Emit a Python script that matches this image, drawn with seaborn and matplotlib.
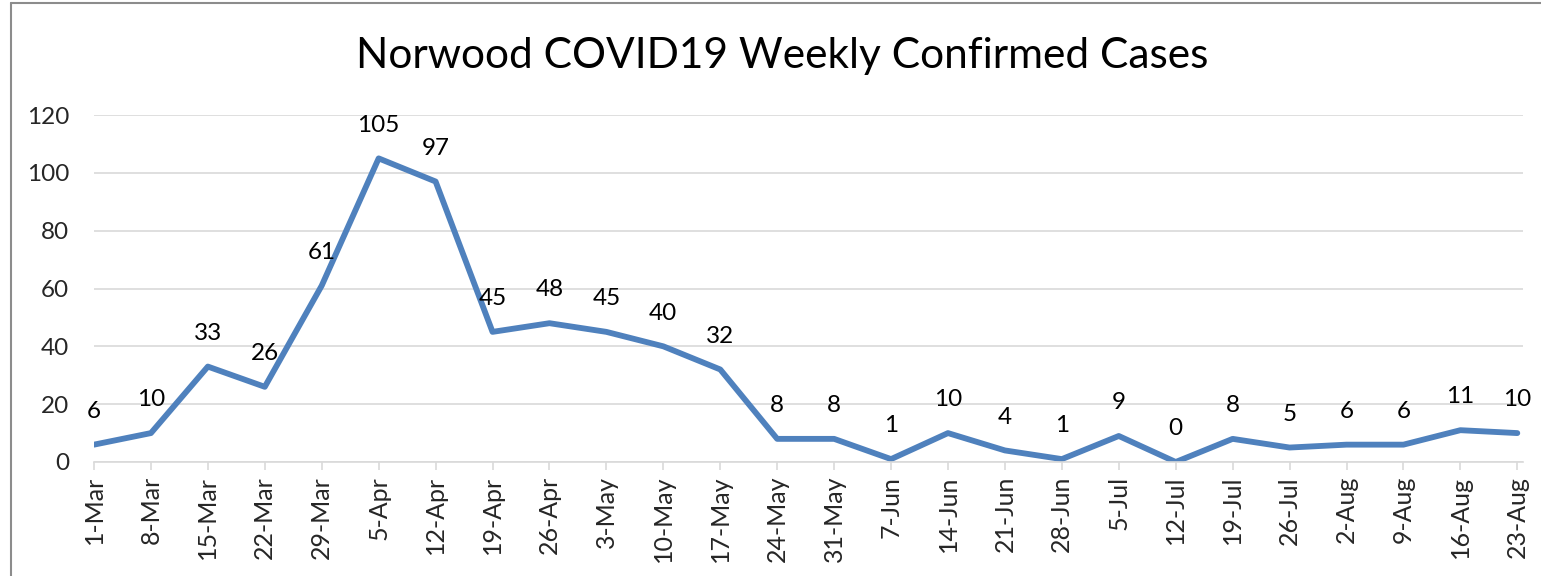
import matplotlib
matplotlib.use("Agg")
import matplotlib.pyplot as plt
import seaborn as sns
import pandas as pd

weeks = ["1-Mar", "8-Mar", "15-Mar", "22-Mar", "29-Mar", "5-Apr", "12-Apr", "19-Apr",
         "26-Apr", "3-May", "10-May", "17-May", "24-May", "31-May", "7-Jun", "14-Jun",
         "21-Jun", "28-Jun", "5-Jul", "12-Jul", "19-Jul", "26-Jul", "2-Aug", "9-Aug",
         "16-Aug", "23-Aug"]
cases = [6, 10, 33, 26, 61, 105, 97, 45, 48, 45, 40, 32, 8, 8, 1, 10, 4, 1, 9, 0, 8, 5, 6, 6, 11, 10]
y_ticks = [0, 20, 40, 60, 80, 100, 120]
title = "Norwood COVID19 Weekly Confirmed Cases"

sns.set_theme(style="white")
plt.rcParams['font.family'] = ['Lato', 'DejaVu Sans']

df = pd.DataFrame({"idx": range(len(weeks)), "week": weeks, "cases": cases})

W, H = 1541, 576
fig = plt.figure(figsize=(W / 100, H / 100), dpi=100)
ax = fig.add_axes([94 / W, (576 - 462) / H, (1523 - 94) / W, (462 - 115) / H])

sns.lineplot(data=df, x="idx", y="cases", ax=ax, color="#4F81BD", linewidth=4.2,
             solid_joinstyle="round", solid_capstyle="round")

for i, v in zip(df["idx"], df["cases"]):
    ax.annotate(str(v), (i, v), xytext=(0, 24), textcoords="offset points",
                ha="center", va="center", fontsize=17.5, color="black")

ax.set_xlim(0, len(weeks) - 1 + 0.1)
ax.set_ylim(0, 120)
ax.set_yticks(y_ticks)
ax.set_yticklabels([str(t) for t in y_ticks], fontsize=17.5)
ax.set_xticks(list(range(len(weeks))))
ax.set_xticklabels(weeks, rotation=90, fontsize=18)
ax.grid(axis="y", color="#d9d9d9", linewidth=1.2)
ax.set_axisbelow(True)
for s in ["left", "top", "right"]:
    ax.spines[s].set_visible(False)
ax.spines["bottom"].set_color("#d9d9d9")
ax.spines["bottom"].set_linewidth(1.2)
ax.tick_params(axis="x", bottom=True, length=6, color="#d9d9d9", width=1.2, pad=4)
ax.tick_params(axis="y", left=False, length=0, pad=18)
ax.set_xlabel("")
ax.set_ylabel("")

fig.text(782 / W, 1 - 56 / H, title, ha="center", va="center", fontsize=30.5, color="black")

# outer chart border
fig.add_artist(plt.Line2D([11 / W, 11 / W], [0, 1 - 3 / H], color="#8c8c8c", linewidth=1.5))
fig.add_artist(plt.Line2D([11 / W, 1], [1 - 3 / H, 1 - 3 / H], color="#8c8c8c", linewidth=1.5))

fig.savefig("out.png", dpi=100)
